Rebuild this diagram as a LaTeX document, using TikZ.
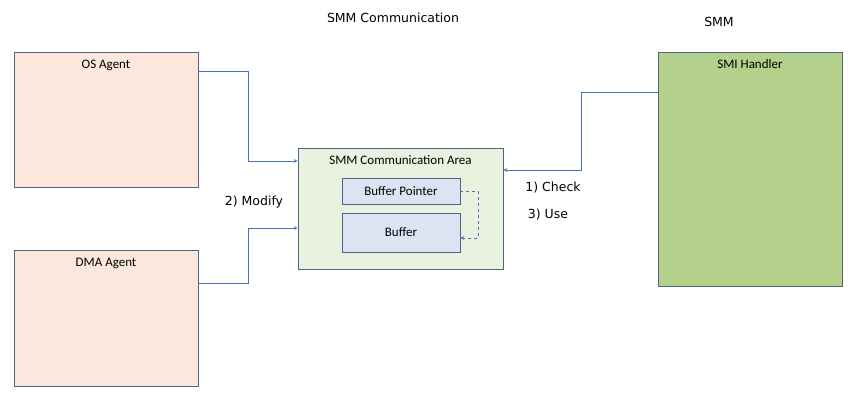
\documentclass[tikz,border=0pt]{standalone}
\usepackage{fontspec}
\setmainfont{DejaVu Sans}
\newfontfamily\carlito{Carlito}
\usetikzlibrary{arrows, positioning}
\tikzset{>=stealth}
\definecolor{agentfill}{HTML}{FBE7DC}
\definecolor{areafill}{HTML}{E9F1DF}
\definecolor{buffill}{HTML}{DCE4F4}
\definecolor{smifill}{HTML}{B3D18B}
\definecolor{boxline}{HTML}{53627F}
\definecolor{linkblue}{HTML}{4A70B8}

\begin{document}
\begin{tikzpicture}[x=1pt,y=-1pt,
    box/.style={draw=boxline, line width=0.7pt, inner sep=0pt},
    toplabel/.style={label={[anchor=north,yshift=-4.5pt,font=\carlito\fontsize{13}{15}\selectfont]north:#1}},
    link/.style={->, draw=linkblue, line width=0.75pt}]
            \useasboundingbox (0,0) rectangle (857,402);

            \node[font=\fontsize{12.5}{15}\selectfont] (title) at (393,18) {SMM Communication};
            \node[font=\fontsize{12.5}{15}\selectfont] (smm) at (719,22) {SMM};

            \node[box, fill=agentfill, minimum width=184, minimum height=135, toplabel={OS Agent}] (os) at (106,119.5) {};
            \node[box, fill=agentfill, minimum width=184, minimum height=136, toplabel={DMA Agent}] (dma) at (106,318) {};
            \node[box, fill=areafill, minimum width=205, minimum height=121, toplabel={SMM Communication Area}] (area) at (400.5,208.5) {};
            \node[box, fill=buffill, minimum width=118, minimum height=26, font=\carlito\fontsize{13}{15}\selectfont] (ptr) at (401,191) {Buffer Pointer};
            \node[box, fill=buffill, minimum width=118, minimum height=39, font=\carlito\fontsize{13}{15}\selectfont] (buf) at (401,232.5) {Buffer};
            \node[box, fill=smifill, minimum width=184, minimum height=234, toplabel={SMI Handler}] (smi) at (750,169) {};

            \node[font=\fontsize{12.5}{15}\selectfont] (modify) at (254,202) {2) Modify};
            \node[font=\fontsize{12.5}{15}\selectfont] (check) at (553,188) {1) Check};
            \node[font=\fontsize{12.5}{15}\selectfont] (use) at (548,215) {3) Use};

            % agents write the area
            \draw[link] ([yshift=48.5]os.east) -- ++(50,0) |- ([yshift=47.5]area.west);
            \draw[link] ([yshift=35]dma.east) -- ++(50,0) |- ([yshift=-19.5]area.west);
            % handler reads the area
            \draw[link] ([yshift=77]smi.west) -- ++(-76,0) |- ([yshift=38.5]area.east);
            % pointer to buffer
            \draw[link, dashed] (ptr.east) -- ++(18,0) |- ([yshift=-5.5]buf.east);
\end{tikzpicture}
\end{document}
